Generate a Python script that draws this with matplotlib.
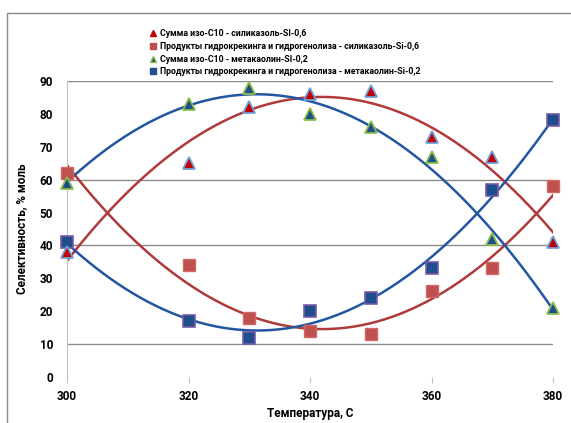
import numpy as np
import matplotlib.pyplot as plt
from matplotlib.patches import Rectangle

plt.rcParams['font.family'] = ['Roboto', 'DejaVu Sans']

# temperature, C
temps = [300, 320, 330, 340, 350, 360, 370, 380]

# selectivity, mol %
iso_silicasol = [38, 65, 82, 86, 87, 73, 67, 41]
crack_silicasol = [62, 34, 18, 14, 13, 26, 33, 58]
iso_metakaolin = [59, 83, 88, 80, 76, 67, 42, 21]
crack_metakaolin = [41, 17, 12, 20, 24, 33, 57, 78]

labels = [
    'Сумма изо-C10 - силиказоль-SI-0,6',
    'Продукты гидрокрекинга и гидрогенолиза - силиказоль-Si-0,6',
    'Сумма изо-C10 - метакаолин-SI-0,2',
    'Продукты гидрокрекинга и гидрогенолиза - метакаолин-Si-0,2',
]

red = '#c0504d'
red_line = '#b03a3a'
blue = '#1f4e8c'
blue_line = '#2356a0'

fig = plt.figure(figsize=(5.71, 4.23), dpi=100)
fig.patches.append(Rectangle((7 / 571, -0.1), 1.2, 1 - 13 / 423 + 0.1,
                             transform=fig.transFigure, fill=False,
                             edgecolor='#8a8a8a', linewidth=1.0))

ax = fig.add_axes([67 / 571, 1 - 377 / 423, 486 / 571, 296 / 423])
ax.set_xlim(300, 380)
ax.set_ylim(0, 90)

for y in [10, 40, 60, 90]:
    ax.axhline(y, color='#8c8c8c', linewidth=1.0, zorder=1)

# second-order trend lines
xs = np.linspace(300, 380, 200)
for vals, col in [(iso_silicasol, red_line), (crack_silicasol, red_line),
                  (iso_metakaolin, blue_line), (crack_metakaolin, blue_line)]:
    coef = np.polyfit(temps, vals, 2)
    ax.plot(xs, np.polyval(coef, xs), color=col, linewidth=1.8, zorder=2)

ax.plot(temps, crack_silicasol, 's', color=red, markersize=8,
        markeredgecolor='#d06a66', zorder=3, clip_on=False)
ax.plot(temps, crack_metakaolin, 's', color=blue, markersize=8,
        markeredgecolor='#7a5aa8', markeredgewidth=1.2, zorder=3, clip_on=False)
ax.plot(temps, iso_metakaolin, '^', color=blue, markersize=9,
        markeredgecolor='#8bbf4a', markeredgewidth=1.3, zorder=4, clip_on=False)
ax.plot(temps, iso_silicasol, '^', color='#c00000', markersize=9,
        markeredgecolor='#6fa0d8', markeredgewidth=1.3, zorder=5, clip_on=False)

ax.set_xticks([300, 320, 340, 360, 380])
ax.set_yticks(range(0, 91, 10))
for s in ['top', 'right', 'bottom']:
    ax.spines[s].set_visible(False)
ax.spines['left'].set_color('#c0c0c0')
ax.tick_params(axis='y', length=0, pad=10, labelsize=8.5)
ax.tick_params(axis='x', length=4, color='#c0c0c0', pad=5, labelsize=8.5)
for t in ax.get_xticklabels() + ax.get_yticklabels():
    t.set_fontweight('bold')

ax.set_xlabel('Температура, С', fontsize=8.5, fontweight='bold', labelpad=3)
ax.set_ylabel('Селективность, % моль', fontsize=8.5, fontweight='bold', labelpad=8)

handles = [
    plt.Line2D([], [], marker='^', linestyle='', color='#c00000', markersize=4.5),
    plt.Line2D([], [], marker='s', linestyle='', color=red, markersize=5),
    plt.Line2D([], [], marker='^', linestyle='', color=blue,
               markeredgecolor='#8bbf4a', markersize=4.5),
    plt.Line2D([], [], marker='s', linestyle='', color=blue, markersize=5),
]
fig.legend(handles, labels, loc='upper left', bbox_to_anchor=(146 / 571, 1 - 25 / 423),
           frameon=False, handlelength=0.65, handletextpad=0.45,
           labelspacing=0.42, borderpad=0,
           prop={'weight': 'bold', 'size': 6.3})

fig.savefig('out.png', dpi=100)
